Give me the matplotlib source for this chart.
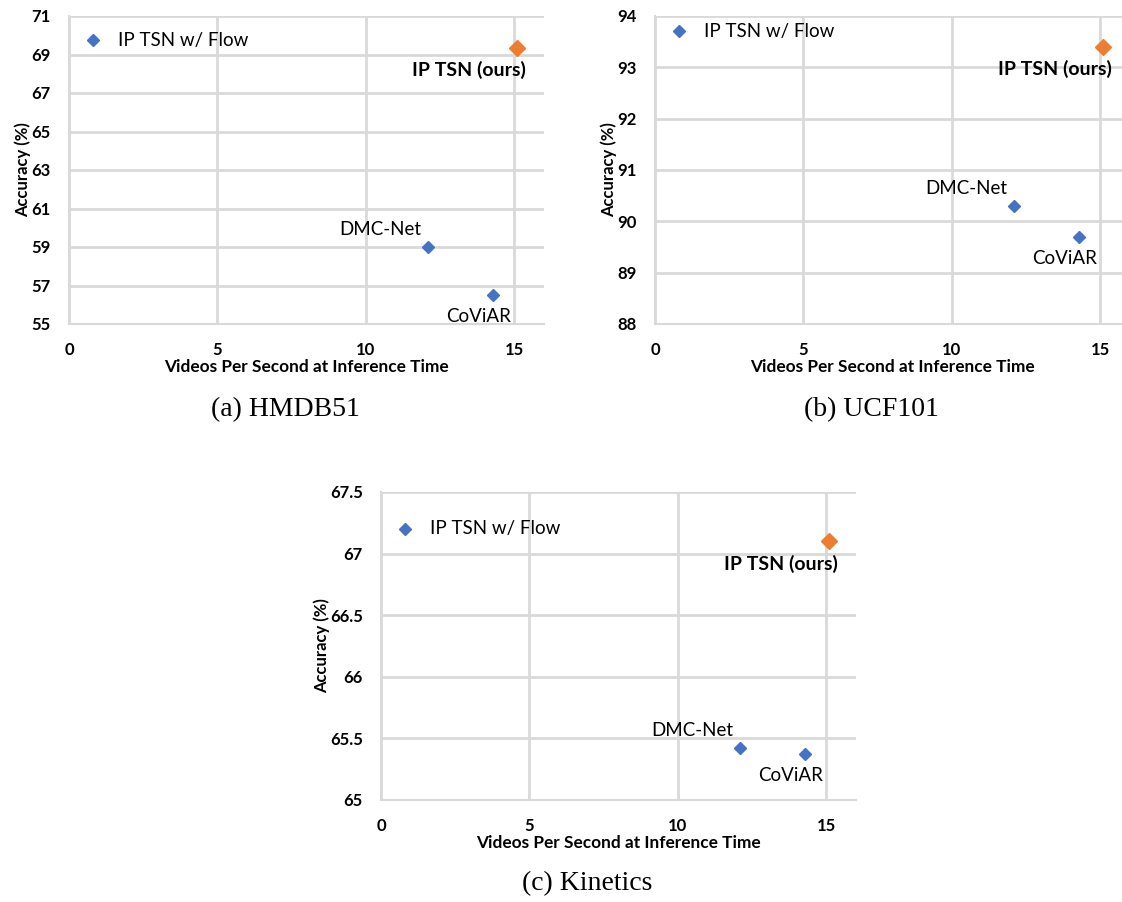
import matplotlib
matplotlib.use("Agg")
import matplotlib.pyplot as plt

plt.rcParams['font.family'] = ['Lato', 'DejaVu Sans']

# data (fps, accuracy)
methods = ["IP TSN w/ Flow", "DMC-Net", "CoViAR"]
fps_other = [0.8, 12.1, 14.27]
fps_ours = 15.1

hmdb_other = [69.75, 59.0, 56.5]
hmdb_ours = 69.35
ucf_other = [93.7, 90.3, 89.7]
ucf_ours = 93.4
kin_other = [67.2, 65.42, 65.37]
kin_ours = 67.1

hmdb_yticks = [55, 57, 59, 61, 63, 65, 67, 69, 71]
ucf_yticks = [88, 89, 90, 91, 92, 93, 94]
kin_yticks = [65, 65.5, 66, 66.5, 67, 67.5]
xticks = [0, 5, 10, 15]

BLUE = "#4472C4"
ORANGE = "#ED7D31"
GRID = "#d9d9d9"

W, H = 1122, 902
fig = plt.figure(figsize=(W / 100, H / 100), dpi=100)


def panel(left, top, other, ours, yticks, caption, cap_xy):
    # axes box given in pixels: 475 wide, 308 tall
    ax = fig.add_axes([left / W, 1 - (top + 308) / H, 475 / W, 308 / H])
    ax.set_xlim(0, 16)
    ax.set_ylim(yticks[0], yticks[-1])
    ax.set_xticks(xticks)
    ax.set_yticks(yticks)
    ax.set_yticklabels([f"{t:g}" for t in yticks])
    ax.grid(True, color=GRID, linewidth=2)
    ax.set_axisbelow(True)
    for s in ["top", "right"]:
        ax.spines[s].set_visible(False)
    for s in ["left", "bottom"]:
        ax.spines[s].set_color(GRID)
        ax.spines[s].set_linewidth(1.5)
    ax.tick_params(length=0, labelsize=12)
    ax.tick_params(axis="x", pad=13)
    ax.tick_params(axis="y", pad=13)
    for lab in ax.get_xticklabels() + ax.get_yticklabels():
        lab.set_fontweight("bold")
    ax.set_xlabel("Videos Per Second at Inference Time", fontsize=12.4,
                  fontweight="bold", labelpad=1)
    ax.set_ylabel("Accuracy (%)", fontsize=12, fontweight="bold", labelpad=0)

    ax.plot(fps_other, other, "D", color=BLUE, markersize=6.5, clip_on=False)
    ax.plot([fps_ours], [ours], "D", color=ORANGE, markersize=8.5, clip_on=False)

    # point labels
    ax.annotate(methods[0], (fps_other[0], other[0]), xytext=(18, 0),
                textcoords="offset points", ha="left", va="center", fontsize=13.5)
    ax.annotate(methods[1], (fps_other[1], other[1]), xytext=(-5, 12.5),
                textcoords="offset points", ha="right", va="center", fontsize=13.5)
    ax.annotate(methods[2], (fps_other[2], other[2]), xytext=(-10, -15.5),
                textcoords="offset points", ha="center", va="center", fontsize=13.5)
    ax.annotate("IP TSN (ours)", (fps_ours, ours), xytext=(6.5, -16),
                textcoords="offset points", ha="right", va="center", fontsize=14,
                fontweight="bold")
    fig.text(cap_xy[0] / W, 1 - cap_xy[1] / H, caption, ha="center", va="center",
             fontsize=20, family="Liberation Serif")
    return ax


panel(69, 16, hmdb_other, hmdb_ours, hmdb_yticks, "(a) HMDB51", (285, 410))
panel(655, 16, ucf_other, ucf_ours, ucf_yticks, "(b) UCF101", (871, 410))
panel(381, 492, kin_other, kin_ours, kin_yticks, "(c) Kinetics", (587, 884))

fig.savefig("out.png", dpi=100)
